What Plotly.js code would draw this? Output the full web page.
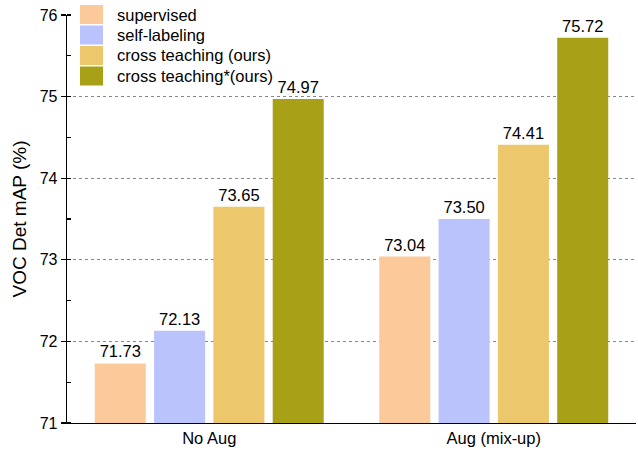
<!DOCTYPE html>
<html>
<head>
<meta charset="utf-8">
<script src="https://cdn.plot.ly/plotly-3.0.1.min.js"></script>
<style>
html,body{margin:0;padding:0;background:#fff;}
#chart{width:638px;height:453px;}
</style>
</head>
<body>
<div id="chart"></div>
<script>
var categories = ["No Aug", "Aug (mix-up)"];
var seriesNames = ["supervised", "self-labeling", "cross teaching (ours)", "cross teaching*(ours)"];
var supervised = [71.73, 73.04];
var selfLabeling = [72.13, 73.50];
var crossTeaching = [73.65, 74.41];
var crossTeachingStar = [74.97, 75.72];
var yTickVals = [71, 72, 73, 74, 75, 76];
var colors = ["#FCC99B", "#BBC3FD", "#ECC76C", "#A8A016"];

var FONT = "Liberation Sans, Arial, sans-serif";
var W = 638, H = 453;
var M = {l: 67, r: 2, t: 15, b: 30};
var plotW = W - M.l - M.r, plotH = H - M.t - M.b;
function px2x(px) { return (px - M.l) / plotW; }
function px2y(py) { return 1 - (py - M.t) / plotH; }

var seriesValues = [supervised, selfLabeling, crossTeaching, crossTeachingStar];
var traces = seriesValues.map(function (vals, i) {
  return {
    type: "bar",
    name: seriesNames[i],
    x: categories,
    y: vals,
    marker: {color: colors[i], line: {width: 0}},
    text: vals.map(function (v) { return v.toFixed(2); }),
    textposition: "outside",
    textfont: {family: FONT, size: 16.5, color: "#000"},
    cliponaxis: false,
    showlegend: false,
    hoverinfo: "x+y+name"
  };
});

// legend drawn as swatches + labels (paper coordinates)
var legendShapes = [], legendAnnots = [];
var legTop = 5, rowH = 20.5, swH = 19, swX0 = 80, swX1 = 103, textX = 115;
seriesNames.forEach(function (name, i) {
  var top = legTop + i * rowH;
  legendShapes.push({
    type: "rect", xref: "paper", yref: "paper",
    x0: px2x(swX0), x1: px2x(swX1),
    y0: px2y(top), y1: px2y(top + swH),
    fillcolor: colors[i], line: {width: 0}, layer: "above"
  });
  legendAnnots.push({
    xref: "paper", yref: "paper",
    x: px2x(textX), y: px2y(top + swH / 2),
    xanchor: "left", yanchor: "middle",
    text: name, showarrow: false,
    font: {family: FONT, size: 16.5, color: "#000"}
  });
});

var layout = {
  width: W,
  height: H,
  margin: M,
  paper_bgcolor: "#fff",
  plot_bgcolor: "#fff",
  barmode: "group",
  bargap: 0.166,
  bargroupgap: 0.14,
  font: {family: FONT, color: "#000"},
  showlegend: false,
  shapes: legendShapes,
  annotations: legendAnnots,
  xaxis: {
    type: "category",
    range: [-0.5, 1.5],
    showline: true, linecolor: "#000", linewidth: 1.3,
    ticks: "", showgrid: false, zeroline: false,
    tickfont: {size: 16.5, color: "#000"}
  },
  yaxis: {
    range: [71, 76],
    tickvals: yTickVals,
    ticks: "outside", ticklen: 5, tickwidth: 1.3, tickcolor: "#000",
    showline: true, linecolor: "#000", linewidth: 1.3,
    showgrid: true, gridcolor: "#888", griddash: "dot", gridwidth: 1,
    zeroline: false,
    tickfont: {size: 16, color: "#000"},
    title: {text: "VOC Det mAP (%)", font: {size: 19, color: "#000"}, standoff: 8},
    minor: {dtick: 0.5, ticks: "inside", ticklen: 4, tickwidth: 1.3, tickcolor: "#000", showgrid: false}
  }
};

Plotly.newPlot("chart", traces, layout, {displayModeBar: false, staticPlot: true});
</script>
</body>
</html>
